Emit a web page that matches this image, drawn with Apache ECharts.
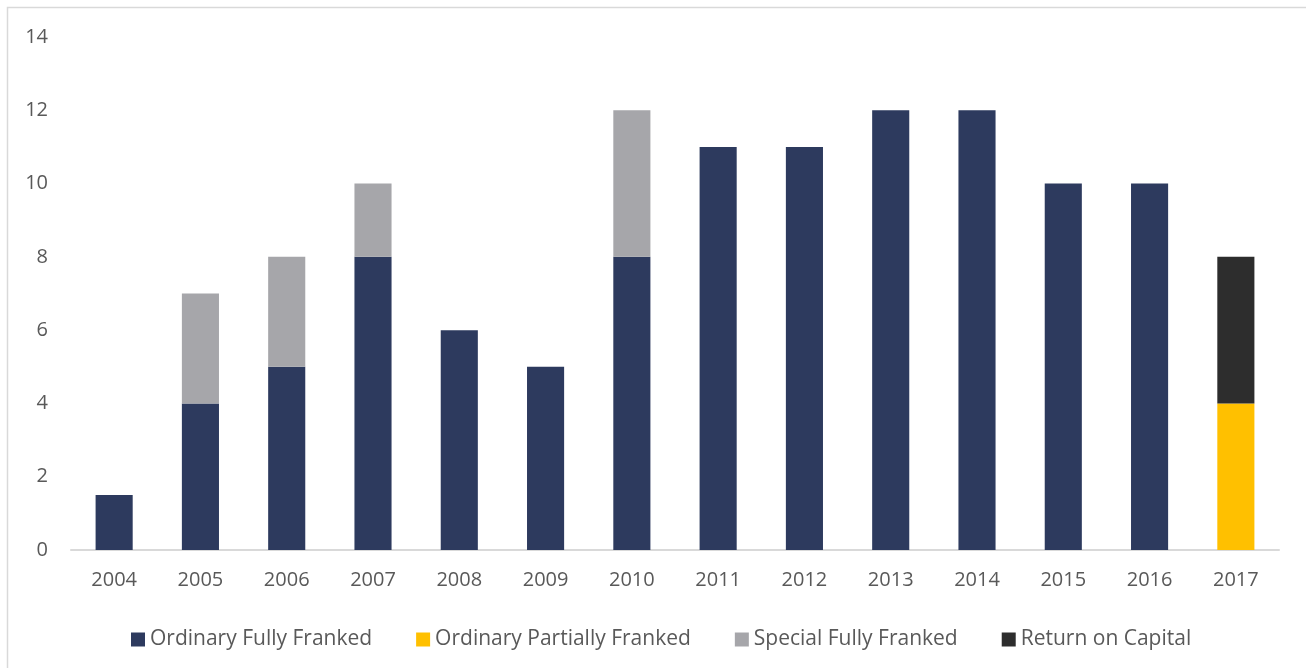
<!DOCTYPE html>
<html>
<head>
<meta charset="utf-8">
<script src="https://cdn.jsdelivr.net/npm/echarts@6/dist/echarts.min.js"></script>
<style>
html,body{margin:0;padding:0;background:#fff;}
#chart{width:1306px;height:668px;}
</style>
</head>
<body>
<div id="chart"></div>
<script>
const categories = ['2004','2005','2006','2007','2008','2009','2010','2011','2012','2013','2014','2015','2016','2017'];
const ordinaryFullyFranked = [1.5, 4, 5, 8, 6, 5, 8, 11, 11, 12, 12, 10, 10, null];
const ordinaryPartiallyFranked = [null, null, null, null, null, null, null, null, null, null, null, null, null, 4];
const specialFullyFranked = [null, 3, 3, 2, null, null, 4, null, null, null, null, null, null, null];
const returnOnCapital = [null, null, null, null, null, null, null, null, null, null, null, null, null, 4];
const yTicks = { min: 0, max: 14, interval: 2 };

const FONT = '"Open Sans", sans-serif';
const chart = echarts.init(document.getElementById('chart'), null, { renderer: 'canvas' });

function barSeries(name, data, color) {
  return {
    name: name,
    type: 'bar',
    stack: 'total',
    data: data,
    barWidth: '43%',
    itemStyle: { color: color },
    emphasis: { disabled: true }
  };
}

chart.setOption({
  animation: false,
  backgroundColor: '#ffffff',
  graphic: [{
    type: 'rect',
    shape: { x: 7.5, y: 7.5, width: 1320, height: 700 },
    style: { fill: 'none', stroke: '#D9D9D9', lineWidth: 1.5 },
    silent: true
  }],
  grid: { left: 71, right: 27, top: 37, bottom: 118, containLabel: false },
  legend: {
    left: 126,
    top: 622,
    itemWidth: 14,
    itemHeight: 14,
    itemGap: 44,
    icon: 'rect',
    textStyle: { fontFamily: FONT, fontSize: 21, color: '#595959', lineHeight: 25 },
    data: ['Ordinary Fully Franked', 'Ordinary Partially Franked', 'Special Fully Franked', 'Return on Capital']
  },
  xAxis: {
    type: 'category',
    data: categories,
    axisLine: { show: true, lineStyle: { color: '#D9D9D9', width: 2 } },
    axisTick: { show: false },
    axisLabel: { fontFamily: FONT, fontSize: 20, color: '#595959', margin: 20 },
    splitLine: { show: false }
  },
  yAxis: {
    type: 'value',
    min: yTicks.min,
    max: yTicks.max,
    interval: yTicks.interval,
    axisLine: { show: false },
    axisTick: { show: false },
    splitLine: { show: false },
    axisLabel: { fontFamily: FONT, fontSize: 20, color: '#595959', margin: 23 }
  },
  series: [
    barSeries('Ordinary Fully Franked', ordinaryFullyFranked, '#2D3A5E'),
    barSeries('Ordinary Partially Franked', ordinaryPartiallyFranked, '#FFC000'),
    barSeries('Special Fully Franked', specialFullyFranked, '#A6A6AA'),
    barSeries('Return on Capital', returnOnCapital, '#2D2D2D')
  ]
});
</script>
</body>
</html>
